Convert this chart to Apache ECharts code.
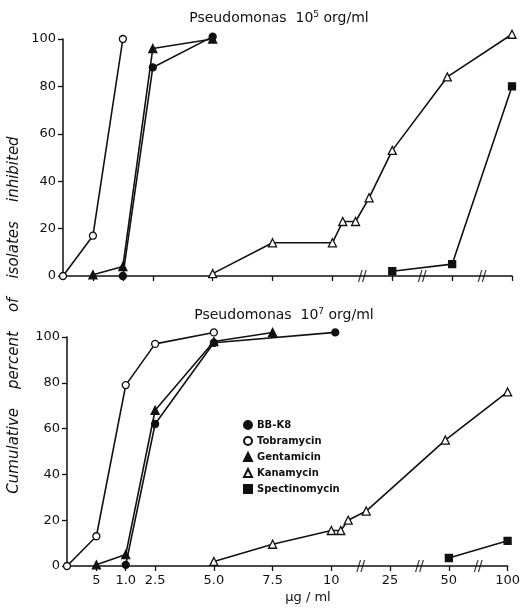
<!DOCTYPE html>
<html>
<head>
<meta charset="utf-8">
<script src="https://cdn.jsdelivr.net/npm/echarts@6/dist/echarts.min.js"></script>
<style>
html,body{margin:0;padding:0;background:#fff;}
#c{width:523px;height:609px;}
</style>
</head>
<body>
<div id="c"></div>
<script>
// ---- axis scale definition (concentration ticks, µg/ml) ----
const tickValues = [0, 0.5, 1, 2.5, 5, 7.5, 10, 25, 50, 100];
const tickLabels = ['', '5', '1.0', '2.5', '5.0', '7.5', '10', '25', '50', '100'];
const tickSlots  = [0, 1, 2, 3, 5, 7, 9, 11, 13, 15];
const breakSlots = [10, 12, 14];

const seriesNames = ['BB-K8', 'Tobramycin', 'Gentamicin', 'Kanamycin', 'Spectinomycin'];

// ---- Panel 1: Pseudomonas 10^5 org/ml  [concentration, cumulative %] ----
const bbk8Top  = [[1, 0], [2.5, 88], [5, 101]];
const tobraTop = [[0, 0], [0.5, 17], [1, 100]];
const gentaTop = [[0.5, 0.5], [1, 4], [2.5, 96], [5, 100]];
const kanaTop  = [[5, 1], [7.5, 14], [10, 14], [12.6, 23], [15.8, 23], [19.2, 33], [25, 53], [48, 84], [100, 102]];
const spectTop = [[25, 2], [50, 5], [100, 80]];

// ---- Panel 2: Pseudomonas 10^7 org/ml ----
const bbk8Bot  = [[1, 0.5], [2.5, 62], [5, 97.5], [11, 102]];
const tobraBot = [[0, 0], [0.5, 13], [1, 79], [2.5, 97], [5, 102]];
const gentaBot = [[0.5, 0.5], [1, 5], [2.5, 68], [5, 98], [7.5, 102]];
const kanaBot  = [[5, 2], [7.5, 9.5], [10, 15.5], [12.4, 15.5], [14.3, 20], [18.9, 24], [48.5, 55], [100, 76]];
const spectBot = [[50, 3.5], [100, 11]];

// piecewise scale: concentration -> axis slot
function toSlot(c) {
  for (let i = 1; i < tickValues.length; i++) {
    if (c <= tickValues[i]) {
      const t = (c - tickValues[i - 1]) / (tickValues[i] - tickValues[i - 1]);
      return tickSlots[i - 1] + t * (tickSlots[i] - tickSlots[i - 1]);
    }
  }
  return tickSlots[tickSlots.length - 1];
}
const conv = arr => arr.map(p => [toSlot(p[0]), p[1]]);

const INK = '#111';
const FONT = 'DejaVu Sans';
const styles = {
  'BB-K8':        { symbol: 'circle',   fill: INK,    size: 7 },
  'Tobramycin':   { symbol: 'circle',   fill: '#fff', size: 7 },
  'Gentamicin':   { symbol: 'triangle', fill: INK,    size: 8 },
  'Kanamycin':    { symbol: 'triangle', fill: '#fff', size: 8 },
  'Spectinomycin':{ symbol: 'rect',     fill: INK,    size: 7 }
};

function mk(name, data, gi) {
  const s = styles[name];
  return {
    name, type: 'line', xAxisIndex: gi, yAxisIndex: gi, clip: false,
    data: conv(data), symbol: s.symbol, symbolSize: s.size, showSymbol: true,
    lineStyle: { color: INK, width: 1.6 },
    itemStyle: { color: s.fill, borderColor: INK, borderWidth: 1.3 },
    z: 3, animation: false
  };
}

const breakPath = 'path://M0,12 L3.6,0 L4.9,0 L1.3,12 Z M4.1,12 L7.7,0 L9,0 L5.4,12 Z';
function breaks(gi) {
  return {
    type: 'scatter', xAxisIndex: gi, yAxisIndex: gi, clip: false,
    data: breakSlots.map(b => [b, 0]), symbol: breakPath, symbolSize: [9, 12],
    itemStyle: { color: INK }, silent: true, z: 4, animation: false, legendHoverLink: false
  };
}

const labelMap = v => { const i = tickSlots.indexOf(v); return i >= 0 ? tickLabels[i] : ''; };

function xAx(gi, showLabels) {
  return {
    type: 'value', gridIndex: gi, min: 0, max: 15,
    axisLine: { onZero: false, lineStyle: { color: INK, width: 1.5 } },
    axisTick: { show: true, customValues: tickSlots.slice(1), length: 5, lineStyle: { color: INK, width: 1.3 } },
    axisLabel: { show: showLabels, customValues: tickSlots.slice(1), formatter: labelMap,
      color: INK, fontFamily: FONT, fontSize: 13, margin: 8 },
    splitLine: { show: false }
  };
}
function yAx(gi) {
  return {
    type: 'value', gridIndex: gi, min: 0, max: 100, interval: 20,
    axisLine: { show: true, lineStyle: { color: INK, width: 1.5 } },
    axisTick: { show: true, length: 5, lineStyle: { color: INK, width: 1.3 } },
    axisLabel: { color: INK, fontFamily: FONT, fontSize: 13, margin: 7 },
    splitLine: { show: false }
  };
}

const titleRich = {
  a: { fontFamily: FONT, fontSize: 14, fontWeight: 'normal', color: INK },
  s: { fontFamily: FONT, fontSize: 9, fontWeight: 'normal', color: INK, verticalAlign: 'top', padding: [0, 0, 7, 0] }
};

const chart = echarts.init(document.getElementById('c'), null, { renderer: 'canvas' });
chart.setOption({
  backgroundColor: '#fff',
  animation: false,
  title: [
    { text: '{a|Pseudomonas  10}{s|5}{a| org/ml}', left: 274, top: 5, textAlign: 'center', textStyle: { fontWeight: 'normal', rich: titleRich } },
    { text: '{a|Pseudomonas  10}{s|7}{a| org/ml}', left: 279, top: 302, textAlign: 'center', textStyle: { fontWeight: 'normal', rich: titleRich } }
  ],
  grid: [
    { left: 63, top: 39, width: 449, height: 237 },
    { left: 67, top: 337, width: 447, height: 229 }
  ],
  xAxis: [xAx(0, false), xAx(1, true)],
  yAxis: [yAx(0), yAx(1)],
  legend: {
    orient: 'vertical', left: 238, top: 415, itemGap: 6, itemWidth: 8, itemHeight: 8,
    data: seriesNames.map(n => ({ name: n, icon: styles[n].symbol })),
    textStyle: { fontFamily: FONT, fontSize: 10, fontWeight: 'bold', color: INK },
    selectedMode: false
  },
  graphic: [
    { type: 'text', x: 14, y: 315, rotation: Math.PI / 2,
      style: { text: 'Cumulative    percent    of    isolates    inhibited', fontFamily: FONT, fontSize: 15, fontStyle: 'italic',
        fill: INK, align: 'center', verticalAlign: 'middle' } },
    { type: 'text', x: 308, y: 598,
      style: { text: 'µg / ml', fontFamily: FONT, fontSize: 13, fill: INK, align: 'center', verticalAlign: 'middle' } }
  ],
  series: [
    mk('Tobramycin', tobraTop, 0), mk('Gentamicin', gentaTop, 0), mk('BB-K8', bbk8Top, 0),
    mk('Kanamycin', kanaTop, 0), mk('Spectinomycin', spectTop, 0), breaks(0),
    mk('Tobramycin', tobraBot, 1), mk('Gentamicin', gentaBot, 1), mk('BB-K8', bbk8Bot, 1),
    mk('Kanamycin', kanaBot, 1), mk('Spectinomycin', spectBot, 1), breaks(1)
  ]
});
</script>
</body>
</html>
